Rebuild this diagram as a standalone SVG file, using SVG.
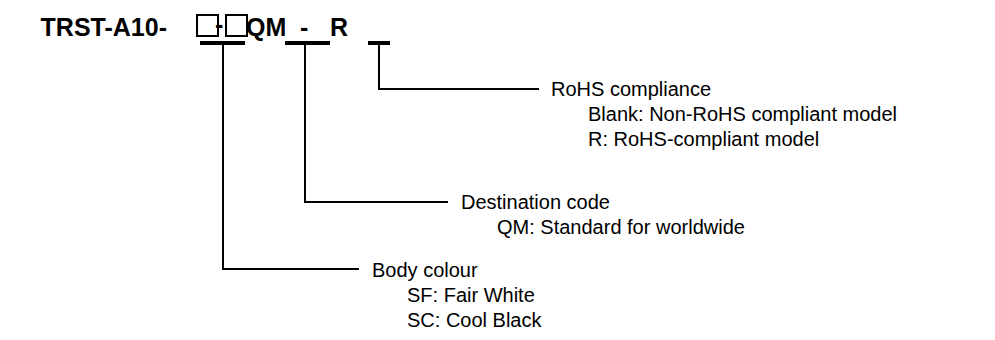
<svg xmlns="http://www.w3.org/2000/svg" width="995" height="340" viewBox="0 0 995 340">
<style>
.t{font-family:"Liberation Sans",Arial,sans-serif;font-size:20px;fill:#000}
.h{font-family:"Liberation Sans",Arial,sans-serif;font-size:25px;font-weight:bold;fill:#000}
.bar{stroke:#000;stroke-width:4;fill:none}
.ln{stroke:#000;stroke-width:2;fill:none}
.box{stroke:#000;stroke-width:2;fill:none}
</style>
<rect width="995" height="340" fill="#fff"/>
<g id="title">
<text class="h" x="167" y="36" text-anchor="end">TRST-A10-</text>
<rect class="box" x="197" y="15" width="21" height="21"/>
<text class="h" x="215" y="33" font-size="16">-</text>
<rect class="box" x="226" y="15" width="21" height="21"/>
<text class="h" x="246" y="36">QM</text>
<text class="h" x="300" y="36">-</text>
<text class="h" x="330" y="36">R</text>
</g>
<g id="connectors">
<line class="bar" x1="200" y1="43" x2="245" y2="43"/>
<polyline class="ln" points="223,43 223,269 359,269"/>
<line class="bar" x1="285" y1="43" x2="330" y2="43"/>
<polyline class="ln" points="305,43 305,202 448,202"/>
<line class="bar" x1="368" y1="43" x2="390" y2="43"/>
<polyline class="ln" points="379,43 379,89 539,89"/>
</g>
<g id="rohs">
<text class="t" x="551" y="96">RoHS compliance</text>
<text class="t" x="588" y="121">Blank: Non-RoHS compliant model</text>
<text class="t" x="588" y="146">R: RoHS-compliant model</text>
</g>
<g id="destination">
<text class="t" x="461" y="209">Destination code</text>
<text class="t" x="497" y="234">QM: Standard for worldwide</text>
</g>
<g id="body">
<text class="t" x="372" y="277">Body colour</text>
<text class="t" x="407" y="302">SF: Fair White</text>
<text class="t" x="407" y="327">SC: Cool Black</text>
</g>
</svg>
